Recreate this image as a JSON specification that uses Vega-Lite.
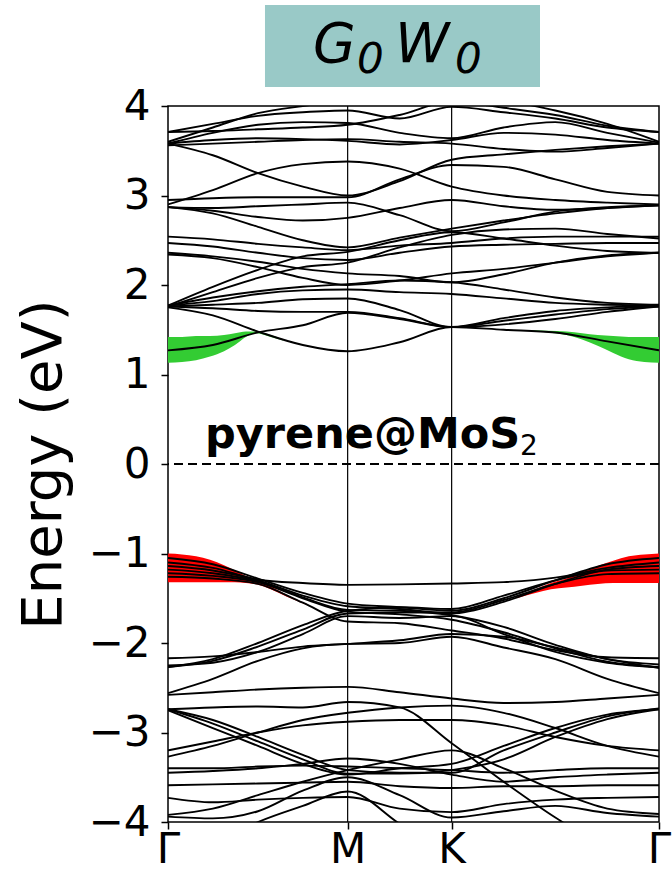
{
"$schema":"https://vega.github.io/schema/vega-lite/v6.json",
"width":491,"height":716,
"autosize":{"type":"none"},
"padding":{"left":168,"top":106,"right":13,"bottom":55},
"background":"white",
"config":{"font":"DejaVu Sans","view":{"stroke":"black","strokeWidth":1.5},
 "axis":{"domain":false,"tickColor":"black","tickWidth":1.5,"tickSize":7,"labelColor":"black","titleColor":"black","labelFont":"DejaVu Sans","titleFont":"DejaVu Sans","grid":false}},
"datasets":{
"bands":[
{"b":"c0","k":0,"E":1.75},{"b":"c0","k":0.144,"E":1.66},{"b":"c0","k":0.289,"E":1.48},{"b":"c0","k":0.433,"E":1.33},{"b":"c0","k":0.577,"E":1.26},{"b":"c0","k":0.744,"E":1.36},{"b":"c0","k":0.911,"E":1.53},{"b":"c0","k":1.078,"E":1.50},{"b":"c0","k":1.244,"E":1.47},{"b":"c0","k":1.411,"E":1.37},{"b":"c0","k":1.577,"E":1.27},
{"b":"c1","k":0,"E":1.27},{"b":"c1","k":0.144,"E":1.33},{"b":"c1","k":0.289,"E":1.47},{"b":"c1","k":0.433,"E":1.55},{"b":"c1","k":0.577,"E":1.69},{"b":"c1","k":0.744,"E":1.62},{"b":"c1","k":0.911,"E":1.53},{"b":"c1","k":1.078,"E":1.56},{"b":"c1","k":1.244,"E":1.62},{"b":"c1","k":1.411,"E":1.70},{"b":"c1","k":1.577,"E":1.76},
{"b":"c2","k":0,"E":1.76},{"b":"c2","k":0.144,"E":1.74},{"b":"c2","k":0.289,"E":1.71},{"b":"c2","k":0.433,"E":1.70},{"b":"c2","k":0.577,"E":1.70},{"b":"c2","k":0.744,"E":1.63},{"b":"c2","k":0.911,"E":1.53},{"b":"c2","k":1.078,"E":1.60},{"b":"c2","k":1.244,"E":1.67},{"b":"c2","k":1.411,"E":1.73},{"b":"c2","k":1.577,"E":1.76},
{"b":"c3","k":0,"E":1.76},{"b":"c3","k":0.144,"E":1.78},{"b":"c3","k":0.289,"E":1.80},{"b":"c3","k":0.433,"E":1.84},{"b":"c3","k":0.577,"E":1.85},{"b":"c3","k":0.744,"E":1.72},{"b":"c3","k":0.911,"E":1.53},{"b":"c3","k":1.078,"E":1.63},{"b":"c3","k":1.244,"E":1.71},{"b":"c3","k":1.411,"E":1.75},{"b":"c3","k":1.577,"E":1.77},
{"b":"c4","k":0,"E":1.77},{"b":"c4","k":0.144,"E":1.82},{"b":"c4","k":0.289,"E":1.90},{"b":"c4","k":0.433,"E":1.94},{"b":"c4","k":0.577,"E":1.95},{"b":"c4","k":0.744,"E":1.92},{"b":"c4","k":0.911,"E":1.90},{"b":"c4","k":1.078,"E":1.85},{"b":"c4","k":1.244,"E":1.80},{"b":"c4","k":1.411,"E":1.78},{"b":"c4","k":1.577,"E":1.77},
{"b":"c5","k":0,"E":1.77},{"b":"c5","k":0.144,"E":1.86},{"b":"c5","k":0.289,"E":1.93},{"b":"c5","k":0.433,"E":1.98},{"b":"c5","k":0.577,"E":2.01},{"b":"c5","k":0.744,"E":2.05},{"b":"c5","k":0.911,"E":2.03},{"b":"c5","k":1.078,"E":1.95},{"b":"c5","k":1.244,"E":1.86},{"b":"c5","k":1.411,"E":1.80},{"b":"c5","k":1.577,"E":1.78},
{"b":"c6","k":0,"E":2.34},{"b":"c6","k":0.144,"E":2.30},{"b":"c6","k":0.289,"E":2.20},{"b":"c6","k":0.433,"E":2.08},{"b":"c6","k":0.577,"E":2.00},{"b":"c6","k":0.744,"E":2.05},{"b":"c6","k":0.911,"E":2.13},{"b":"c6","k":1.078,"E":2.18},{"b":"c6","k":1.244,"E":2.25},{"b":"c6","k":1.411,"E":2.32},{"b":"c6","k":1.577,"E":2.36},
{"b":"c7","k":0,"E":2.36},{"b":"c7","k":0.144,"E":2.32},{"b":"c7","k":0.289,"E":2.26},{"b":"c7","k":0.433,"E":2.18},{"b":"c7","k":0.577,"E":2.13},{"b":"c7","k":0.744,"E":2.10},{"b":"c7","k":0.911,"E":2.03},{"b":"c7","k":1.078,"E":2.12},{"b":"c7","k":1.244,"E":2.25},{"b":"c7","k":1.411,"E":2.33},{"b":"c7","k":1.577,"E":2.36},
{"b":"c8","k":0,"E":2.47},{"b":"c8","k":0.144,"E":2.43},{"b":"c8","k":0.289,"E":2.36},{"b":"c8","k":0.433,"E":2.30},{"b":"c8","k":0.577,"E":2.28},{"b":"c8","k":0.744,"E":2.36},{"b":"c8","k":0.911,"E":2.43},{"b":"c8","k":1.078,"E":2.45},{"b":"c8","k":1.244,"E":2.46},{"b":"c8","k":1.411,"E":2.47},{"b":"c8","k":1.577,"E":2.47},
{"b":"c9","k":0,"E":2.54},{"b":"c9","k":0.144,"E":2.51},{"b":"c9","k":0.289,"E":2.46},{"b":"c9","k":0.433,"E":2.42},{"b":"c9","k":0.577,"E":2.39},{"b":"c9","k":0.744,"E":2.44},{"b":"c9","k":0.911,"E":2.47},{"b":"c9","k":1.078,"E":2.52},{"b":"c9","k":1.244,"E":2.54},{"b":"c9","k":1.411,"E":2.54},{"b":"c9","k":1.577,"E":2.54},
{"b":"c10","k":0,"E":1.76},{"b":"c10","k":0.144,"E":1.92},{"b":"c10","k":0.289,"E":2.08},{"b":"c10","k":0.433,"E":2.20},{"b":"c10","k":0.577,"E":2.25},{"b":"c10","k":0.744,"E":2.42},{"b":"c10","k":0.911,"E":2.56},{"b":"c10","k":1.078,"E":2.62},{"b":"c10","k":1.244,"E":2.63},{"b":"c10","k":1.411,"E":2.57},{"b":"c10","k":1.577,"E":2.52},
{"b":"c11","k":0,"E":1.77},{"b":"c11","k":0.144,"E":1.98},{"b":"c11","k":0.289,"E":2.17},{"b":"c11","k":0.433,"E":2.32},{"b":"c11","k":0.577,"E":2.37},{"b":"c11","k":0.744,"E":2.50},{"b":"c11","k":0.911,"E":2.59},{"b":"c11","k":1.078,"E":2.52},{"b":"c11","k":1.244,"E":2.44},{"b":"c11","k":1.411,"E":2.38},{"b":"c11","k":1.577,"E":2.36},
{"b":"c12","k":0,"E":2.87},{"b":"c12","k":0.144,"E":2.80},{"b":"c12","k":0.289,"E":2.65},{"b":"c12","k":0.433,"E":2.50},{"b":"c12","k":0.577,"E":2.42},{"b":"c12","k":0.744,"E":2.53},{"b":"c12","k":0.911,"E":2.63},{"b":"c12","k":1.078,"E":2.72},{"b":"c12","k":1.244,"E":2.80},{"b":"c12","k":1.411,"E":2.86},{"b":"c12","k":1.577,"E":2.89},
{"b":"c13","k":0,"E":2.87},{"b":"c13","k":0.144,"E":2.83},{"b":"c13","k":0.289,"E":2.76},{"b":"c13","k":0.433,"E":2.72},{"b":"c13","k":0.577,"E":2.75},{"b":"c13","k":0.744,"E":2.86},{"b":"c13","k":0.911,"E":2.95},{"b":"c13","k":1.078,"E":2.88},{"b":"c13","k":1.244,"E":2.84},{"b":"c13","k":1.411,"E":2.86},{"b":"c13","k":1.577,"E":2.89},
{"b":"c14","k":0,"E":2.90},{"b":"c14","k":0.144,"E":3.06},{"b":"c14","k":0.289,"E":3.25},{"b":"c14","k":0.433,"E":3.35},{"b":"c14","k":0.577,"E":3.38},{"b":"c14","k":0.744,"E":3.30},{"b":"c14","k":0.911,"E":3.10},{"b":"c14","k":1.078,"E":3.00},{"b":"c14","k":1.244,"E":2.95},{"b":"c14","k":1.411,"E":2.92},{"b":"c14","k":1.577,"E":2.90},
{"b":"c15","k":0,"E":2.95},{"b":"c15","k":0.144,"E":2.97},{"b":"c15","k":0.289,"E":2.98},{"b":"c15","k":0.433,"E":2.98},{"b":"c15","k":0.577,"E":2.98},{"b":"c15","k":0.744,"E":3.18},{"b":"c15","k":0.911,"E":3.34},{"b":"c15","k":1.078,"E":3.32},{"b":"c15","k":1.244,"E":3.18},{"b":"c15","k":1.411,"E":3.04},{"b":"c15","k":1.577,"E":3.00},
{"b":"c16","k":0,"E":3.58},{"b":"c16","k":0.144,"E":3.45},{"b":"c16","k":0.289,"E":3.25},{"b":"c16","k":0.433,"E":3.10},{"b":"c16","k":0.577,"E":3.00},{"b":"c16","k":0.744,"E":3.16},{"b":"c16","k":0.911,"E":3.40},{"b":"c16","k":1.078,"E":3.46},{"b":"c16","k":1.244,"E":3.51},{"b":"c16","k":1.411,"E":3.55},{"b":"c16","k":1.577,"E":3.58},
{"b":"c17","k":0,"E":3.56},{"b":"c17","k":0.144,"E":3.58},{"b":"c17","k":0.289,"E":3.60},{"b":"c17","k":0.433,"E":3.62},{"b":"c17","k":0.577,"E":3.63},{"b":"c17","k":0.744,"E":3.60},{"b":"c17","k":0.911,"E":3.58},{"b":"c17","k":1.078,"E":3.52},{"b":"c17","k":1.244,"E":3.49},{"b":"c17","k":1.411,"E":3.53},{"b":"c17","k":1.577,"E":3.58},
{"b":"c18","k":0,"E":3.58},{"b":"c18","k":0.144,"E":3.62},{"b":"c18","k":0.289,"E":3.64},{"b":"c18","k":0.433,"E":3.63},{"b":"c18","k":0.577,"E":3.61},{"b":"c18","k":0.744,"E":3.57},{"b":"c18","k":0.911,"E":3.62},{"b":"c18","k":1.078,"E":3.70},{"b":"c18","k":1.244,"E":3.68},{"b":"c18","k":1.411,"E":3.62},{"b":"c18","k":1.577,"E":3.58},
{"b":"c19","k":0,"E":3.58},{"b":"c19","k":0.144,"E":3.70},{"b":"c19","k":0.289,"E":3.79},{"b":"c19","k":0.433,"E":3.82},{"b":"c19","k":0.577,"E":3.81},{"b":"c19","k":0.744,"E":3.70},{"b":"c19","k":0.911,"E":3.64},{"b":"c19","k":1.078,"E":3.76},{"b":"c19","k":1.244,"E":3.82},{"b":"c19","k":1.411,"E":3.70},{"b":"c19","k":1.577,"E":3.59},
{"b":"c20","k":0,"E":3.71},{"b":"c20","k":0.144,"E":3.80},{"b":"c20","k":0.289,"E":3.89},{"b":"c20","k":0.433,"E":3.93},{"b":"c20","k":0.577,"E":3.95},{"b":"c20","k":0.744,"E":3.86},{"b":"c20","k":0.911,"E":3.99},{"b":"c20","k":1.078,"E":3.93},{"b":"c20","k":1.244,"E":3.86},{"b":"c20","k":1.411,"E":3.76},{"b":"c20","k":1.577,"E":3.71},
{"b":"c21","k":0,"E":3.60},{"b":"c21","k":0.144,"E":3.76},{"b":"c21","k":0.289,"E":3.92},{"b":"c21","k":0.433,"E":4.00},{"b":"c21","k":0.577,"E":4.06},{"b":"c21","k":0.744,"E":4.10},{"b":"c21","k":0.911,"E":4.06},{"b":"c21","k":1.078,"E":4.05},{"b":"c21","k":1.244,"E":3.95},{"b":"c21","k":1.411,"E":3.80},{"b":"c21","k":1.577,"E":3.60},
{"b":"c22","k":0,"E":2.87},{"b":"c22","k":0.144,"E":2.86},{"b":"c22","k":0.289,"E":2.88},{"b":"c22","k":0.433,"E":2.90},{"b":"c22","k":0.577,"E":2.92},{"b":"c22","k":0.744,"E":2.78},{"b":"c22","k":0.911,"E":2.60},{"b":"c22","k":1.078,"E":2.70},{"b":"c22","k":1.244,"E":2.82},{"b":"c22","k":1.411,"E":2.87},{"b":"c22","k":1.577,"E":2.89},
{"b":"c23","k":0,"E":3.71},{"b":"c23","k":0.144,"E":3.72},{"b":"c23","k":0.289,"E":3.74},{"b":"c23","k":0.433,"E":3.76},{"b":"c23","k":0.577,"E":3.79},{"b":"c23","k":0.744,"E":3.90},{"b":"c23","k":0.911,"E":4.05},{"b":"c23","k":1.078,"E":3.98},{"b":"c23","k":1.244,"E":3.90},{"b":"c23","k":1.411,"E":3.78},{"b":"c23","k":1.577,"E":3.71},
{"b":"v0","k":0,"E":-1.10},{"b":"v0","k":0.144,"E":-1.16},{"b":"v0","k":0.289,"E":-1.29},{"b":"v0","k":0.433,"E":-1.33},{"b":"v0","k":0.577,"E":-1.35},{"b":"v0","k":0.744,"E":-1.345},{"b":"v0","k":0.911,"E":-1.335},{"b":"v0","k":1.078,"E":-1.32},{"b":"v0","k":1.244,"E":-1.27},{"b":"v0","k":1.411,"E":-1.16},{"b":"v0","k":1.577,"E":-1.10},
{"b":"v1","k":0,"E":-1.05},{"b":"v1","k":0.144,"E":-1.12},{"b":"v1","k":0.289,"E":-1.28},{"b":"v1","k":0.433,"E":-1.44},{"b":"v1","k":0.577,"E":-1.56},{"b":"v1","k":0.744,"E":-1.60},{"b":"v1","k":0.911,"E":-1.64},{"b":"v1","k":1.078,"E":-1.50},{"b":"v1","k":1.244,"E":-1.30},{"b":"v1","k":1.411,"E":-1.12},{"b":"v1","k":1.577,"E":-1.05},
{"b":"v2","k":0,"E":-1.14},{"b":"v2","k":0.144,"E":-1.19},{"b":"v2","k":0.289,"E":-1.30},{"b":"v2","k":0.433,"E":-1.47},{"b":"v2","k":0.577,"E":-1.59},{"b":"v2","k":0.744,"E":-1.62},{"b":"v2","k":0.911,"E":-1.67},{"b":"v2","k":1.078,"E":-1.54},{"b":"v2","k":1.244,"E":-1.34},{"b":"v2","k":1.411,"E":-1.18},{"b":"v2","k":1.577,"E":-1.14},
{"b":"v3","k":0,"E":-1.18},{"b":"v3","k":0.144,"E":-1.22},{"b":"v3","k":0.289,"E":-1.31},{"b":"v3","k":0.433,"E":-1.49},{"b":"v3","k":0.577,"E":-1.63},{"b":"v3","k":0.744,"E":-1.64},{"b":"v3","k":0.911,"E":-1.69},{"b":"v3","k":1.078,"E":-1.82},{"b":"v3","k":1.244,"E":-2.02},{"b":"v3","k":1.411,"E":-2.18},{"b":"v3","k":1.577,"E":-2.24},
{"b":"v4","k":0,"E":-1.22},{"b":"v4","k":0.144,"E":-1.25},{"b":"v4","k":0.289,"E":-1.32},{"b":"v4","k":0.433,"E":-1.50},{"b":"v4","k":0.577,"E":-1.65},{"b":"v4","k":0.744,"E":-1.68},{"b":"v4","k":0.911,"E":-1.74},{"b":"v4","k":1.078,"E":-1.88},{"b":"v4","k":1.244,"E":-2.06},{"b":"v4","k":1.411,"E":-2.21},{"b":"v4","k":1.577,"E":-2.27},
{"b":"v5","k":0,"E":-1.26},{"b":"v5","k":0.144,"E":-1.28},{"b":"v5","k":0.289,"E":-1.34},{"b":"v5","k":0.433,"E":-1.55},{"b":"v5","k":0.577,"E":-1.76},{"b":"v5","k":0.744,"E":-1.78},{"b":"v5","k":0.911,"E":-1.86},{"b":"v5","k":1.078,"E":-1.95},{"b":"v5","k":1.244,"E":-2.08},{"b":"v5","k":1.411,"E":-2.16},{"b":"v5","k":1.577,"E":-2.17},
{"b":"v6","k":0,"E":-2.27},{"b":"v6","k":0.144,"E":-2.18},{"b":"v6","k":0.289,"E":-2.00},{"b":"v6","k":0.433,"E":-1.80},{"b":"v6","k":0.577,"E":-1.64},{"b":"v6","k":0.744,"E":-1.60},{"b":"v6","k":0.911,"E":-1.62},{"b":"v6","k":1.078,"E":-1.47},{"b":"v6","k":1.244,"E":-1.30},{"b":"v6","k":1.411,"E":-1.19},{"b":"v6","k":1.577,"E":-1.18},
{"b":"v7","k":0,"E":-2.27},{"b":"v7","k":0.144,"E":-2.20},{"b":"v7","k":0.289,"E":-2.04},{"b":"v7","k":0.433,"E":-1.85},{"b":"v7","k":0.577,"E":-1.67},{"b":"v7","k":0.744,"E":-1.66},{"b":"v7","k":0.911,"E":-1.66},{"b":"v7","k":1.078,"E":-1.52},{"b":"v7","k":1.244,"E":-1.34},{"b":"v7","k":1.411,"E":-1.23},{"b":"v7","k":1.577,"E":-1.22},
{"b":"v8","k":0,"E":-2.25},{"b":"v8","k":0.144,"E":-2.22},{"b":"v8","k":0.289,"E":-2.10},{"b":"v8","k":0.433,"E":-1.90},{"b":"v8","k":0.577,"E":-1.70},{"b":"v8","k":0.744,"E":-1.72},{"b":"v8","k":0.911,"E":-1.70},{"b":"v8","k":1.078,"E":-1.90},{"b":"v8","k":1.244,"E":-2.10},{"b":"v8","k":1.411,"E":-2.22},{"b":"v8","k":1.577,"E":-2.27},
{"b":"v9","k":0,"E":-2.17},{"b":"v9","k":0.144,"E":-2.15},{"b":"v9","k":0.289,"E":-2.10},{"b":"v9","k":0.433,"E":-2.04},{"b":"v9","k":0.577,"E":-2.01},{"b":"v9","k":0.744,"E":-1.97},{"b":"v9","k":0.911,"E":-1.90},{"b":"v9","k":1.078,"E":-1.93},{"b":"v9","k":1.244,"E":-2.05},{"b":"v9","k":1.411,"E":-2.18},{"b":"v9","k":1.577,"E":-2.28},
{"b":"v10","k":0,"E":-2.56},{"b":"v10","k":0.144,"E":-2.40},{"b":"v10","k":0.289,"E":-2.20},{"b":"v10","k":0.433,"E":-2.06},{"b":"v10","k":0.577,"E":-2.01},{"b":"v10","k":0.744,"E":-2.00},{"b":"v10","k":0.911,"E":-1.93},{"b":"v10","k":1.078,"E":-2.05},{"b":"v10","k":1.244,"E":-2.18},{"b":"v10","k":1.411,"E":-2.40},{"b":"v10","k":1.577,"E":-2.56},
{"b":"w1","k":0,"E":-2.58},{"b":"w1","k":0.144,"E":-2.55},{"b":"w1","k":0.289,"E":-2.52},{"b":"w1","k":0.433,"E":-2.50},{"b":"w1","k":0.577,"E":-2.49},{"b":"w1","k":0.744,"E":-2.55},{"b":"w1","k":0.911,"E":-2.62},{"b":"w1","k":1.078,"E":-2.67},{"b":"w1","k":1.244,"E":-2.66},{"b":"w1","k":1.411,"E":-2.62},{"b":"w1","k":1.577,"E":-2.58},
{"b":"w2","k":0,"E":-2.74},{"b":"w2","k":0.144,"E":-2.72},{"b":"w2","k":0.289,"E":-2.71},{"b":"w2","k":0.433,"E":-2.72},{"b":"w2","k":0.577,"E":-2.66},{"b":"w2","k":0.744,"E":-2.72},{"b":"w2","k":0.911,"E":-3.12},{"b":"w2","k":1.078,"E":-3.55},{"b":"w2","k":1.244,"E":-3.95},{"b":"w2","k":1.411,"E":-4.30},{"b":"w2","k":1.577,"E":-4.60},
{"b":"w3","k":0,"E":-2.74},{"b":"w3","k":0.144,"E":-2.86},{"b":"w3","k":0.289,"E":-3.05},{"b":"w3","k":0.433,"E":-3.25},{"b":"w3","k":0.577,"E":-3.42},{"b":"w3","k":0.744,"E":-3.45},{"b":"w3","k":0.911,"E":-3.45},{"b":"w3","k":1.078,"E":-3.20},{"b":"w3","k":1.244,"E":-3.00},{"b":"w3","k":1.411,"E":-2.82},{"b":"w3","k":1.577,"E":-2.73},
{"b":"w4","k":0,"E":-2.74},{"b":"w4","k":0.144,"E":-2.90},{"b":"w4","k":0.289,"E":-3.10},{"b":"w4","k":0.433,"E":-3.30},{"b":"w4","k":0.577,"E":-3.46},{"b":"w4","k":0.744,"E":-3.46},{"b":"w4","k":0.911,"E":-3.42},{"b":"w4","k":1.078,"E":-3.30},{"b":"w4","k":1.244,"E":-3.05},{"b":"w4","k":1.411,"E":-2.85},{"b":"w4","k":1.577,"E":-2.74},
{"b":"w5","k":0,"E":-2.75},{"b":"w5","k":0.144,"E":-2.95},{"b":"w5","k":0.289,"E":-3.15},{"b":"w5","k":0.433,"E":-3.35},{"b":"w5","k":0.577,"E":-3.47},{"b":"w5","k":0.744,"E":-3.40},{"b":"w5","k":0.911,"E":-3.35},{"b":"w5","k":1.078,"E":-3.15},{"b":"w5","k":1.244,"E":-2.95},{"b":"w5","k":1.411,"E":-2.80},{"b":"w5","k":1.577,"E":-2.74},
{"b":"w6","k":0,"E":-3.20},{"b":"w6","k":0.144,"E":-3.10},{"b":"w6","k":0.289,"E":-3.00},{"b":"w6","k":0.433,"E":-2.92},{"b":"w6","k":0.577,"E":-2.88},{"b":"w6","k":0.744,"E":-2.86},{"b":"w6","k":0.911,"E":-2.86},{"b":"w6","k":1.078,"E":-2.92},{"b":"w6","k":1.244,"E":-3.05},{"b":"w6","k":1.411,"E":-3.15},{"b":"w6","k":1.577,"E":-3.20},
{"b":"w7","k":0,"E":-3.27},{"b":"w7","k":0.144,"E":-3.15},{"b":"w7","k":0.289,"E":-3.00},{"b":"w7","k":0.433,"E":-2.86},{"b":"w7","k":0.577,"E":-2.78},{"b":"w7","k":0.744,"E":-2.72},{"b":"w7","k":0.911,"E":-2.70},{"b":"w7","k":1.078,"E":-2.78},{"b":"w7","k":1.244,"E":-2.95},{"b":"w7","k":1.411,"E":-3.15},{"b":"w7","k":1.577,"E":-3.27},
{"b":"w8","k":0,"E":-3.40},{"b":"w8","k":0.144,"E":-3.40},{"b":"w8","k":0.289,"E":-3.38},{"b":"w8","k":0.433,"E":-3.37},{"b":"w8","k":0.577,"E":-3.38},{"b":"w8","k":0.744,"E":-3.40},{"b":"w8","k":0.911,"E":-3.42},{"b":"w8","k":1.078,"E":-3.45},{"b":"w8","k":1.244,"E":-3.42},{"b":"w8","k":1.411,"E":-3.40},{"b":"w8","k":1.577,"E":-3.40},
{"b":"w9","k":0,"E":-3.45},{"b":"w9","k":0.144,"E":-3.43},{"b":"w9","k":0.289,"E":-3.40},{"b":"w9","k":0.433,"E":-3.35},{"b":"w9","k":0.577,"E":-3.29},{"b":"w9","k":0.744,"E":-3.35},{"b":"w9","k":0.911,"E":-3.47},{"b":"w9","k":1.078,"E":-3.55},{"b":"w9","k":1.244,"E":-3.50},{"b":"w9","k":1.411,"E":-3.47},{"b":"w9","k":1.577,"E":-3.45},
{"b":"w10","k":0,"E":-3.59},{"b":"w10","k":0.144,"E":-3.58},{"b":"w10","k":0.289,"E":-3.57},{"b":"w10","k":0.433,"E":-3.56},{"b":"w10","k":0.577,"E":-3.55},{"b":"w10","k":0.744,"E":-3.60},{"b":"w10","k":0.911,"E":-3.62},{"b":"w10","k":1.078,"E":-3.60},{"b":"w10","k":1.244,"E":-3.60},{"b":"w10","k":1.411,"E":-3.59},{"b":"w10","k":1.577,"E":-3.59},
{"b":"w11","k":0,"E":-3.73},{"b":"w11","k":0.144,"E":-3.78},{"b":"w11","k":0.289,"E":-3.75},{"b":"w11","k":0.433,"E":-3.73},{"b":"w11","k":0.577,"E":-3.72},{"b":"w11","k":0.744,"E":-3.85},{"b":"w11","k":0.911,"E":-3.89},{"b":"w11","k":1.078,"E":-3.80},{"b":"w11","k":1.244,"E":-3.75},{"b":"w11","k":1.411,"E":-3.73},{"b":"w11","k":1.577,"E":-3.72},
{"b":"w12","k":0,"E":-3.92},{"b":"w12","k":0.144,"E":-3.85},{"b":"w12","k":0.289,"E":-3.70},{"b":"w12","k":0.433,"E":-3.55},{"b":"w12","k":0.577,"E":-3.42},{"b":"w12","k":0.744,"E":-3.30},{"b":"w12","k":0.911,"E":-3.20},{"b":"w12","k":1.078,"E":-3.40},{"b":"w12","k":1.244,"E":-3.65},{"b":"w12","k":1.411,"E":-3.85},{"b":"w12","k":1.577,"E":-3.91},
{"b":"w13","k":0,"E":-3.94},{"b":"w13","k":0.144,"E":-3.96},{"b":"w13","k":0.289,"E":-3.88},{"b":"w13","k":0.433,"E":-3.65},{"b":"w13","k":0.577,"E":-3.50},{"b":"w13","k":0.744,"E":-3.70},{"b":"w13","k":0.911,"E":-3.95},{"b":"w13","k":1.078,"E":-3.88},{"b":"w13","k":1.244,"E":-3.82},{"b":"w13","k":1.411,"E":-3.90},{"b":"w13","k":1.577,"E":-3.94},
{"b":"w14","k":0,"E":-4.50},{"b":"w14","k":0.144,"E":-4.25},{"b":"w14","k":0.289,"E":-4.00},{"b":"w14","k":0.433,"E":-3.82},{"b":"w14","k":0.577,"E":-3.66},{"b":"w14","k":0.744,"E":-4.02},{"b":"w14","k":0.911,"E":-4.40},{"b":"w14","k":1.078,"E":-4.60},{"b":"w14","k":1.244,"E":-4.60},{"b":"w14","k":1.411,"E":-4.60},{"b":"w14","k":1.577,"E":-4.60}
],
"fat":[
{"s":"gL","c":"g","k":0,"lo":1.13,"hi":1.42},{"s":"gL","c":"g","k":0.045,"lo":1.14,"hi":1.42},{"s":"gL","c":"g","k":0.09,"lo":1.16,"hi":1.43},{"s":"gL","c":"g","k":0.135,"lo":1.20,"hi":1.43},{"s":"gL","c":"g","k":0.18,"lo":1.26,"hi":1.44},{"s":"gL","c":"g","k":0.215,"lo":1.33,"hi":1.46},{"s":"gL","c":"g","k":0.25,"lo":1.42,"hi":1.48},{"s":"gL","c":"g","k":0.28,"lo":1.46,"hi":1.48},{"s":"gL","c":"g","k":0.33,"lo":1.42,"hi":1.44},{"s":"gL","c":"g","k":0.37,"lo":1.38,"hi":1.39},
{"s":"gR","c":"g","k":1.17,"lo":1.485,"hi":1.495},{"s":"gR","c":"g","k":1.22,"lo":1.47,"hi":1.49},{"s":"gR","c":"g","k":1.28,"lo":1.44,"hi":1.48},{"s":"gR","c":"g","k":1.33,"lo":1.39,"hi":1.46},{"s":"gR","c":"g","k":1.38,"lo":1.32,"hi":1.44},{"s":"gR","c":"g","k":1.43,"lo":1.24,"hi":1.43},{"s":"gR","c":"g","k":1.48,"lo":1.17,"hi":1.42},{"s":"gR","c":"g","k":1.53,"lo":1.14,"hi":1.42},{"s":"gR","c":"g","k":1.577,"lo":1.13,"hi":1.42},
{"s":"rL","c":"r","k":0,"lo":-1.32,"hi":-1.00},{"s":"rL","c":"r","k":0.045,"lo":-1.32,"hi":-1.01},{"s":"rL","c":"r","k":0.09,"lo":-1.32,"hi":-1.03},{"s":"rL","c":"r","k":0.135,"lo":-1.32,"hi":-1.07},{"s":"rL","c":"r","k":0.18,"lo":-1.32,"hi":-1.13},{"s":"rL","c":"r","k":0.215,"lo":-1.32,"hi":-1.19},{"s":"rL","c":"r","k":0.25,"lo":-1.33,"hi":-1.25},{"s":"rL","c":"r","k":0.29,"lo":-1.35,"hi":-1.30},{"s":"rL","c":"r","k":0.33,"lo":-1.40,"hi":-1.37},{"s":"rL","c":"r","k":0.38,"lo":-1.48,"hi":-1.46},{"s":"rL","c":"r","k":0.45,"lo":-1.58,"hi":-1.57},
{"s":"rR","c":"r","k":1.12,"lo":-1.50,"hi":-1.48},{"s":"rR","c":"r","k":1.18,"lo":-1.44,"hi":-1.40},{"s":"rR","c":"r","k":1.23,"lo":-1.40,"hi":-1.33},{"s":"rR","c":"r","k":1.28,"lo":-1.38,"hi":-1.28},{"s":"rR","c":"r","k":1.33,"lo":-1.36,"hi":-1.21},{"s":"rR","c":"r","k":1.38,"lo":-1.34,"hi":-1.14},{"s":"rR","c":"r","k":1.43,"lo":-1.33,"hi":-1.08},{"s":"rR","c":"r","k":1.48,"lo":-1.33,"hi":-1.03},{"s":"rR","c":"r","k":1.53,"lo":-1.33,"hi":-1.01},{"s":"rR","c":"r","k":1.577,"lo":-1.33,"hi":-1.00}
]
},
"layer":[
{"data":{"name":"fat"},
 "mark":{"type":"area","interpolate":"monotone","clip":true,"opacity":1},
 "encoding":{
  "x":{"field":"k","type":"quantitative","scale":{"domain":[0,1.577],"nice":false,"zero":false},
   "axis":{"values":[0,0.577,0.911,1.577],"labelExpr":"datum.value==0.577?'M':(datum.value==0.911?'K':'Γ')","labelFontSize":42,"labelPadding":20,"labelBaseline":"middle","labelFlush":false,"title":null}},
  "y":{"field":"lo","type":"quantitative","scale":{"domain":[-4,4],"nice":false,"zero":false},
   "axis":{"values":[-4,-3,-2,-1,0,1,2,3,4],"labelFontSize":42,"labelPadding":11,"format":"d","title":"Energy (eV)","titleFontSize":56,"titleFontWeight":"normal","titleAngle":270,"titleBaseline":"alphabetic","titleAlign":"center","titleX":-108,"titleY":358}},
  "y2":{"field":"hi"},"detail":{"field":"s"},
  "color":{"field":"c","type":"nominal","scale":{"domain":["g","r"],"range":["#33cc33","#ff0000"]},"legend":null}}},
{"data":{"name":"bands"},
 "mark":{"type":"line","interpolate":"monotone","clip":true,"color":"black","strokeWidth":1.9},
 "encoding":{"x":{"field":"k","type":"quantitative"},"y":{"field":"E","type":"quantitative"},"detail":{"field":"b"}}},
{"data":{"values":[{"k":0.577},{"k":0.911}]},
 "mark":{"type":"rule","color":"black","strokeWidth":1.2},
 "encoding":{"x":{"field":"k","type":"quantitative"}}},
{"data":{"values":[{"E":0}]},
 "mark":{"type":"rule","color":"black","strokeWidth":2,"strokeDash":[9,5]},
 "encoding":{"y":{"field":"E","type":"quantitative"}}},
{"data":{"values":[{"k1":0.3115,"k2":1.1948,"e1":5.128,"e2":4.212}]},
 "mark":{"type":"rect","color":"#99c9c7","clip":false},
 "encoding":{"x":{"field":"k1","type":"quantitative"},"x2":{"field":"k2"},"y":{"field":"e1","type":"quantitative"},"y2":{"field":"e2"}}},
{"data":{"values":[{"k":0.1188,"E":0.18,"t":"pyrene@MoS"}]},
 "mark":{"type":"text","align":"left","baseline":"alphabetic","fontSize":43,"fontWeight":"bold","font":"DejaVu Sans","color":"black"},
 "encoding":{"x":{"field":"k","type":"quantitative"},"y":{"field":"E","type":"quantitative"},"text":{"field":"t"}}},
{"data":{"values":[{"k":1.1306,"E":0.10,"t":"2"}]},
 "mark":{"type":"text","align":"left","baseline":"alphabetic","fontSize":28,"font":"DejaVu Sans","color":"black"},
 "encoding":{"x":{"field":"k","type":"quantitative"},"y":{"field":"E","type":"quantitative"},"text":{"field":"t"}}},
{"data":{"values":[{"k":0.4657,"E":4.49,"t":"G"},{"k":0.7291,"E":4.49,"t":"W"}]},
 "mark":{"type":"text","align":"left","baseline":"alphabetic","fontSize":55,"fontStyle":"italic","font":"DejaVu Sans","color":"black","clip":false},
 "encoding":{"x":{"field":"k","type":"quantitative"},"y":{"field":"E","type":"quantitative"},"text":{"field":"t"}}},
{"data":{"values":[{"k":0.6067,"E":4.37,"t":"0"},{"k":0.9214,"E":4.37,"t":"0"}]},
 "mark":{"type":"text","align":"left","baseline":"alphabetic","fontSize":42,"fontStyle":"italic","font":"DejaVu Sans","color":"black","clip":false},
 "encoding":{"x":{"field":"k","type":"quantitative"},"y":{"field":"E","type":"quantitative"},"text":{"field":"t"}}}
]
}
